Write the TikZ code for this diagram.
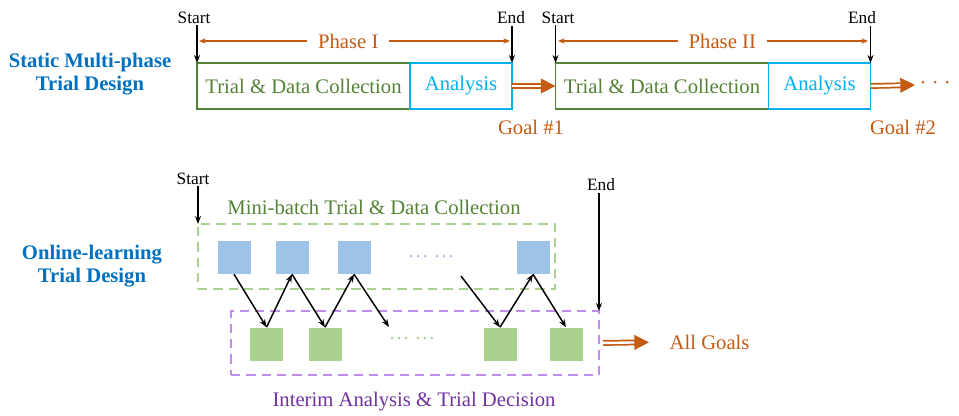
\documentclass[tikz,border=0pt]{standalone}
\usepackage{fontspec}
\setmainfont{Liberation Serif}
\usetikzlibrary{arrows.meta,positioning}

\definecolor{trialgreen}{HTML}{548235}
\definecolor{anacyan}{HTML}{00B0F0}
\definecolor{goalorange}{HTML}{C55A11}
\definecolor{labelblue}{HTML}{0070C0}
\definecolor{batchblue}{HTML}{9DC3E6}
\definecolor{batchgreen}{HTML}{A9D18E}
\definecolor{dashpurple}{HTML}{BD8FE8}
\definecolor{decpurple}{HTML}{7030A0}

\begin{document}
\begin{tikzpicture}[
   x=0.75pt,
   y=-0.75pt,
   font=\fontsize{15.5}{18}\selectfont,
   >={Stealth[length=6pt,width=4.5pt]},
   timetext/.style={
      font=\fontsize{13}{15}\selectfont,
      inner sep=1pt
   },
   timearrow/.style={->, line width=1.1pt},
   designlabel/.style={
      align=center,
      text=labelblue,
      font=\fontsize{15.5}{17}\selectfont\bfseries
   },
   trialbox/.style={
      draw=trialgreen,
      text=trialgreen,
      line width=1.2pt,
      outer sep=0pt,
      minimum width=159.75pt,
      minimum height=34.5pt
   },
   anabox/.style={
      draw=anacyan,
      text=anacyan,
      line width=1.2pt,
      outer sep=0pt,
      minimum width=76.5pt,
      minimum height=34.5pt
   },
   phasearrow/.style={
      {Stealth[length=5pt,width=4pt]}-{Stealth[length=5pt,width=4pt]},
      goalorange,
      line width=1pt
   },
   phasetext/.style={fill=white, text=goalorange, inner xsep=8pt},
   goaltext/.style={text=goalorange},
   goalarrow/.style={
      goalorange,
      line width=1.3pt,
      double=white,
      double distance=1.8pt,
      -{Triangle[length=11pt,width=11pt]}
   },
   dashbox/.style={
      dash pattern=on 7pt off 4.5pt,
      line width=1.1pt,
      outer sep=0pt
   },
   batchsq/.style={fill=batchblue, minimum size=24.75pt, inner sep=0pt},
   decsq/.style={fill=batchgreen, minimum size=24.75pt, inner sep=0pt},
   zig/.style={->, line width=1.1pt}
]

   \useasboundingbox (0,0) rectangle (959,415);

   % Static multi-phase design
   \node[designlabel] (static) at (90,74)
   {
      Static Multi-phase\\
      Trial Design
   };

   % Phase I
   \node[trialbox] (trial1) at (303.5,86) {Trial \& Data Collection};
   \node[anabox, anchor=west] (ana1) at (trial1.east) {Analysis};

   \node[timetext] (start1) at (194,18) {Start};
   \node[timetext] (end1) at (511,18) {End};

   \draw[timearrow] (start1.south -| trial1.north west) -- (trial1.north west);
   \draw[timearrow] (end1.south -| ana1.north east) -- (ana1.north east);

   \coordinate (ph1s) at (199,41);
   \coordinate (ph1e) at (510,41);
   \draw[phasearrow] (ph1s) -- node[phasetext, pos=0.48] (phase1) {Phase I} (ph1e);

   \node[goaltext] (goal1) at (531,127) {Goal \#1};

   % Phase II
   \node[trialbox] (trial2) at (662,86) {Trial \& Data Collection};
   \node[anabox, anchor=west] (ana2) at (trial2.east) {Analysis};

   \node[timetext] (start2) at (558,18) {Start};
   \node[timetext] (end2) at (862,18) {End};

   \draw[timearrow] (start2.south -| trial2.north west) -- (trial2.north west);
   \draw[timearrow] (end2.south -| ana2.north east) -- (ana2.north east);

   \coordinate (ph2s) at (558,41);
   \coordinate (ph2e) at (868,41);
   \draw[phasearrow] (ph2s) -- node[phasetext, pos=0.53] (phase2) {Phase II} (ph2e);

   \node[goaltext] (goal2) at (903,127) {Goal \#2};

   % Goals between phases
   \node[goaltext, anchor=west] (more) at (915,85) {· · ·};

   \draw[goalarrow] (ana1.east) -- (trial2.west);
   \draw[goalarrow] (ana2.east) -- (more.west);

   % Online-learning design
   \node[designlabel] (online) at (92,266)
   {
      Online-learning\\
      Trial Design
   };

   \node[dashbox, draw=batchgreen, minimum width=267.75pt, minimum height=48.75pt]
      (batchbox) at (376.5,256.5) {};
   \node[dashbox, draw=dashpurple, minimum width=276pt, minimum height=48pt]
      (interimbox) at (415,343) {};

   \node[text=trialgreen] (batchlabel) at (374,207)
   {
      Mini-batch Trial \& Data Collection
   };
   \node[text=decpurple] (interimlabel) at (414,402)
   {
      Interim Analysis \& Trial Decision
   };

   % Mini-batches
   \node[batchsq] (b1) at (234,257.5) {};
   \node[batchsq] (b2) at (292,257.5) {};
   \node[batchsq] (b3) at (354,257.5) {};
   \node[batchsq] (b4) at (533,257.5) {};

   \node[text=batchblue] (bdots) at (431,257) {… …};

   % Interim decisions
   \node[decsq] (d1) at (266.5,344) {};
   \node[decsq] (d2) at (325,344) {};
   \node[decsq] (d3) at (500,344) {};
   \node[decsq] (d4) at (566,344) {};

   \node[text=batchgreen] (ddots) at (412,339) {… …};

   % Zigzag
   \coordinate (gapin) at (389,327);
   \coordinate (gapout) at (461,276);

   \draw[zig] (b1.south) -- (d1.north);
   \draw[zig] (d1.north) -- (b2.south);
   \draw[zig] (b2.south) -- (d2.north);
   \draw[zig] (d2.north) -- (b3.south);
   \draw[zig] (b3.south) -- (gapin);
   \draw[zig] (gapout) -- (d3.north);
   \draw[zig] (d3.north) -- (b4.south);
   \draw[zig] (b4.south) -- (d4.north);

   % Start and end
   \node[timetext] (start3) at (193,179) {Start};
   \node[timetext] (end3) at (601,185) {End};

   \draw[timearrow] (start3.south -| batchbox.north west) -- (batchbox.north west);
   \draw[timearrow] (end3.south -| interimbox.north east) -- (interimbox.north east);

   % All goals
   \node[goaltext, anchor=west] (allgoals) at (665,342) {All Goals};

   \draw[goalarrow, shorten <=3pt, shorten >=12pt] (interimbox.east) -- (allgoals.west);

\end{tikzpicture}
\end{document}
